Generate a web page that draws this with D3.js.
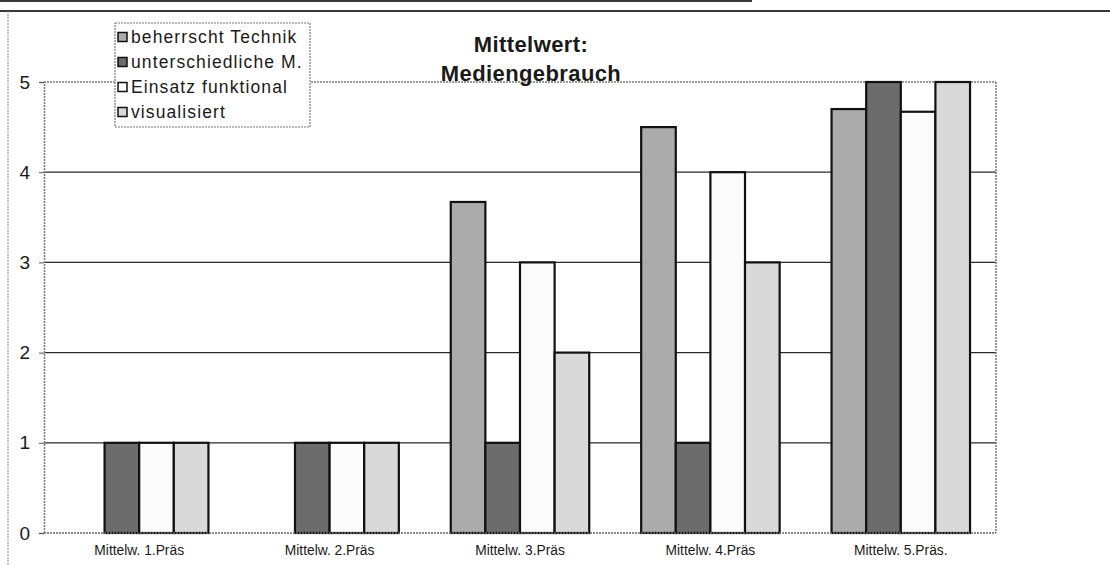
<!DOCTYPE html>
<html>
<head>
<meta charset="utf-8">
<script src="https://cdn.jsdelivr.net/npm/d3@7/dist/d3.min.js"></script>
<style>
  html, body { margin: 0; padding: 0; background: #fff; }
  svg { display: block; }
  text { font-family: "Liberation Sans", Arial, sans-serif; fill: #1a1a1a; }
</style>
</head>
<body>
<svg id="chart" width="1110" height="565"></svg>
<script>
// Mittelwerte je Präsentation
const categories = ["Mittelw. 1.Präs", "Mittelw. 2.Präs", "Mittelw. 3.Präs", "Mittelw. 4.Präs", "Mittelw. 5.Präs."];
const seriesNames = ["beherrscht Technik", "unterschiedliche M.", "Einsatz  funktional", "visualisiert"];
const technik     = [0, 0, 3.67, 4.5, 4.7];
const medien      = [1, 1, 1, 1, 5];
const funktional  = [1, 1, 3, 4, 4.67];
const visualisiert= [1, 1, 2, 3, 5];
const yTicks      = [0, 1, 2, 3, 4, 5];
const titleLines  = ["Mittelwert:", "Mediengebrauch"];

const seriesValues = [technik, medien, funktional, visualisiert];
const fills = ["#ababab", "#6c6c6c", "#fbfbfb", "#d9d9d9"];

const svg = d3.select("#chart");
const W = 1110, H = 565;
const plot = { left: 44, right: 996, top: 82, bottom: 533 };

// outer frame lines
svg.append("line").attr("x1", 0).attr("x2", 752).attr("y1", 1).attr("y2", 1)
  .attr("stroke", "#3a3a3a").attr("stroke-width", 2);
svg.append("line").attr("x1", 0).attr("x2", W).attr("y1", 11).attr("y2", 11)
  .attr("stroke", "#3a3a3a").attr("stroke-width", 2);
svg.append("line").attr("x1", 8).attr("x2", 8).attr("y1", 11).attr("y2", H)
  .attr("stroke", "#8a8a8a").attr("stroke-width", 1).attr("stroke-dasharray", "2,1");

const x0 = d3.scaleBand().domain(categories).range([plot.left, plot.right]).paddingInner(0).paddingOuter(0);
const x1 = d3.scaleBand().domain(d3.range(seriesNames.length)).range([0, x0.bandwidth()])
  .paddingInner(0).paddingOuter(0.75);
const y = d3.scaleLinear().domain([0, 5]).range([plot.bottom, plot.top]);

// gridlines
svg.append("g").selectAll("line").data(yTicks.filter(t => t > 0 && t < 5)).join("line")
  .attr("x1", plot.left).attr("x2", plot.right)
  .attr("y1", d => y(d)).attr("y2", d => y(d))
  .attr("stroke", "#2a2a2a").attr("stroke-width", 1.2);

// plot area border (top, right)
const border = svg.append("g").attr("stroke", "#7a7a7a").attr("stroke-width", 1.5).attr("stroke-dasharray", "2,1").attr("fill", "none");
border.append("line").attr("x1", plot.left).attr("x2", plot.right).attr("y1", y(5)).attr("y2", y(5));
border.append("line").attr("x1", plot.right).attr("x2", plot.right).attr("y1", y(5)).attr("y2", y(0));

// bars
const rows = categories.map((c, i) => ({ c, vals: seriesValues.map((s, k) => ({ k, v: s[i] })) }));
const groups = svg.append("g").selectAll("g").data(rows).join("g")
  .attr("transform", d => `translate(${x0(d.c)},0)`);
groups.selectAll("rect").data(d => d.vals.filter(e => e.v > 0)).join("rect")
  .attr("x", d => x1(d.k))
  .attr("width", x1.bandwidth())
  .attr("y", d => y(d.v))
  .attr("height", d => y(0) - y(d.v))
  .attr("fill", d => fills[d.k])
  .attr("stroke", "#111").attr("stroke-width", 2.2);

// x axis baseline
svg.append("line").attr("x1", plot.left).attr("x2", plot.right).attr("y1", y(0)).attr("y2", y(0))
  .attr("stroke", "#6a6a6a").attr("stroke-width", 1.5).attr("stroke-dasharray", "2,1");

// y axis
const yAxis = svg.append("g").attr("transform", `translate(${plot.left},0)`)
  .call(d3.axisLeft(y).tickValues(yTicks).tickFormat(d3.format("d")).tickSize(5).tickPadding(9));
yAxis.select(".domain").attr("stroke", "#7a7a7a").attr("stroke-width", 1.5).attr("stroke-dasharray", "2,1");
yAxis.selectAll(".tick line").attr("stroke", "#555");
yAxis.selectAll(".tick text").attr("font-size", 19).attr("font-family", "Liberation Sans, Arial, sans-serif").attr("fill", "#1a1a1a");

// x axis labels
svg.append("g").selectAll("text").data(categories).join("text")
  .attr("x", d => x0(d) + x0.bandwidth() / 2)
  .attr("y", 555)
  .attr("text-anchor", "middle")
  .attr("font-size", 13.8)
  .text(d => d);

// title
svg.append("g").selectAll("text").data(titleLines).join("text")
  .attr("x", 531)
  .attr("y", (d, i) => 52 + i * 29)
  .attr("text-anchor", "middle")
  .attr("font-size", 22)
  .attr("font-weight", "bold")
  .attr("letter-spacing", 0.4)
  .attr("fill", "#2a2a2a")
  .text(d => d);

// legend
const lg = svg.append("g");
lg.append("rect").attr("x", 115).attr("y", 23).attr("width", 195).attr("height", 104)
  .attr("fill", "#fff").attr("stroke", "#7a7a7a").attr("stroke-width", 1.2).attr("stroke-dasharray", "2,1");
const items = lg.selectAll("g").data(seriesNames).join("g")
  .attr("transform", (d, i) => `translate(118,${37 + i * 25})`);
items.append("rect").attr("x", 0).attr("y", -4.5).attr("width", 9).attr("height", 9)
  .attr("fill", (d, i) => fills[i]).attr("stroke", "#111").attr("stroke-width", 1.5);
items.append("text").attr("x", 13).attr("y", 6)
  .attr("font-size", 17.5).attr("letter-spacing", 1.1)
  .text(d => d);
</script>
</body>
</html>
